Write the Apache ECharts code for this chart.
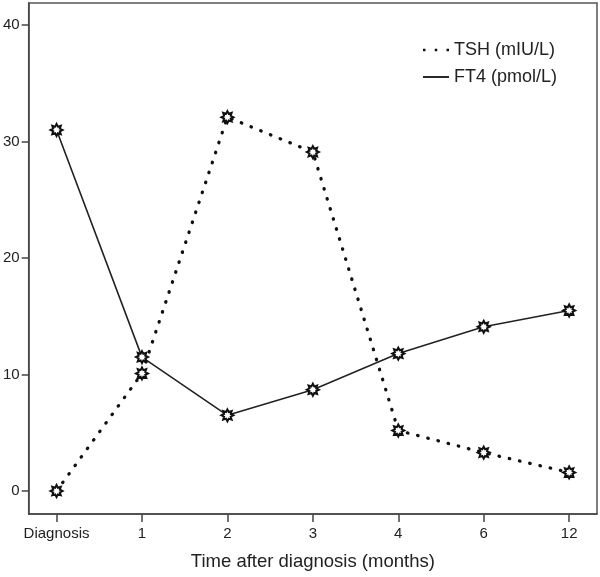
<!DOCTYPE html>
<html>
<head>
<meta charset="utf-8">
<script src="https://cdn.jsdelivr.net/npm/echarts@6/dist/echarts.min.js"></script>
<style>html,body{margin:0;padding:0;background:#fff}#c{width:600px;height:577px}</style>
</head>
<body>
<div id="c"></div>
<script>
var categories = ['Diagnosis', '1', '2', '3', '4', '6', '12'];
var tshValues = [0, 10.1, 32.1, 29.1, 5.2, 3.3, 1.6];
var ft4Values = [31.0, 11.5, 6.5, 8.7, 11.8, 14.1, 15.5];
var yTicks = [0, 10, 20, 30, 40];
var seriesNames = ['TSH (mIU/L)', 'FT4 (pmol/L)'];

// 8-point star marker path
function starPath() {
  var pts = [];
  for (var k = 0; k < 16; k++) {
    var r = (k % 2 === 0) ? 10 : 6;
    var a = k * Math.PI / 8 - Math.PI / 2;
    pts.push((10 + r * Math.cos(a)).toFixed(2) + ',' + (10 + r * Math.sin(a)).toFixed(2));
  }
  return 'path://M' + pts.join('L') + 'Z';
}
var STAR = starPath();

var xIdx = categories.map(function (c, i) { return i; });
var chart = echarts.init(document.getElementById('c'));
var font = 'Liberation Sans, Arial, sans-serif';
chart.setOption({
  animation: false,
  backgroundColor: '#fff',
  grid: { left: 26, right: 3, top: 3, bottom: 63, show: true, borderColor: '#555', borderWidth: 1.5 },
  legend: {
    orient: 'vertical', left: 418, top: 36, itemGap: 9,
    itemWidth: 26, itemHeight: 3,
    textStyle: { fontFamily: font, fontSize: 18, color: '#222', padding: [0, 0, 0, 0] },
    data: [
      { name: seriesNames[0], icon: 'path://M0,0h2.5v2.5h-2.5zM11.75,0h2.5v2.5h-2.5zM23.5,0h2.5v2.5h-2.5z', itemStyle: { color: '#111', borderWidth: 0 } },
      { name: seriesNames[1], icon: 'path://M0,0h26v1.8h-26z', itemStyle: { color: '#111', borderWidth: 0 } }
    ]
  },
  xAxis: {
    type: 'value', min: -0.326, max: 6.326,
    name: 'Time after diagnosis (months)', nameLocation: 'middle', nameGap: 38,
    nameTextStyle: { fontFamily: font, fontSize: 18.5, color: '#222' },
    axisLine: { onZero: false, lineStyle: { color: '#444', width: 1.5 } },
    axisTick: { show: true, length: 8, customValues: xIdx, lineStyle: { color: '#444', width: 1.5 } },
    axisLabel: {
      customValues: xIdx, margin: 12, fontFamily: font, fontSize: 15, color: '#222',
      formatter: function (v) { return categories[Math.round(v)]; }
    },
    splitLine: { show: false }
  },
  yAxis: {
    type: 'value', min: -1.97, max: 41.9,
    axisLine: { show: true, onZero: false, lineStyle: { color: '#444', width: 1.5 } },
    axisTick: { show: true, length: 7, customValues: yTicks, lineStyle: { color: '#444', width: 1.5 } },
    axisLabel: { customValues: yTicks, margin: 9, fontFamily: font, fontSize: 15, color: '#222' },
    splitLine: { show: false }
  },
  series: [
    {
      name: seriesNames[0], type: 'line',
      data: tshValues.map(function (v, i) { return [i, v]; }),
      symbol: STAR, symbolSize: 12,
      itemStyle: { color: '#fff', borderColor: '#111', borderWidth: 2 },
      lineStyle: { color: '#111', width: 3.3, type: [0.5, 10], cap: 'round' },
      z: 3
    },
    {
      name: seriesNames[1], type: 'line',
      data: ft4Values.map(function (v, i) { return [i, v]; }),
      symbol: STAR, symbolSize: 12,
      itemStyle: { color: '#fff', borderColor: '#111', borderWidth: 2 },
      lineStyle: { color: '#222', width: 1.6 },
      z: 2
    }
  ]
});
</script>
</body>
</html>
